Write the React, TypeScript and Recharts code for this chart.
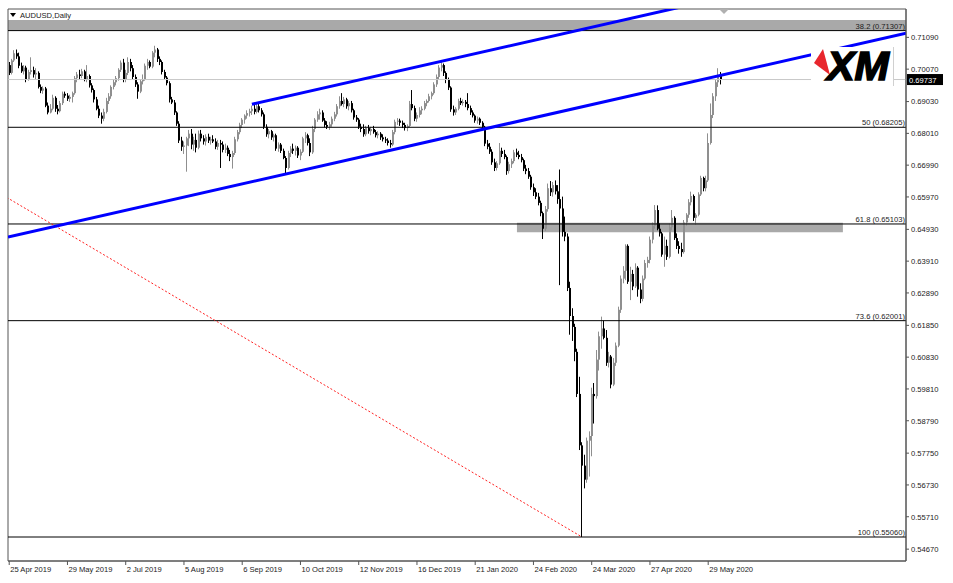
import React from "react";
import { ComposedChart, Bar, XAxis, YAxis, ReferenceLine, ReferenceArea } from "recharts";

// ---------------- data (AUDUSD daily candles) ----------------
const opens = [
  0.7020,0.6995,0.7035,0.7058,0.7048,0.7018,0.7000,0.7012,0.6975,0.6998,
  0.7004,0.6990,0.6995,0.6950,0.6938,0.6945,0.6890,0.6868,0.6880,0.6915,
  0.6880,0.6872,0.6898,0.6928,0.6922,0.6912,0.6918,0.6930,0.6978,0.6990,
  0.6985,0.7000,0.6975,0.6985,0.6955,0.6940,0.6910,0.6880,0.6858,0.6848,
  0.6870,0.6905,0.6920,0.6950,0.6965,0.6978,0.7005,0.7028,0.6975,0.6995,
  0.7030,0.7010,0.6982,0.6958,0.6935,0.6968,0.6975,0.7018,0.7030,0.7015,
  0.7060,0.7070,0.7040,0.7030,0.6998,0.6980,0.6962,0.6910,0.6900,0.6868,
  0.6832,0.6778,0.6758,0.6762,0.6785,0.6800,0.6765,0.6780,0.6755,0.6800,
  0.6785,0.6775,0.6790,0.6778,0.6782,0.6775,0.6758,0.6770,0.6765,0.6748,
  0.6755,0.6735,0.6725,0.6738,0.6782,0.6805,0.6828,0.6845,0.6858,0.6866,
  0.6872,0.6880,0.6870,0.6888,0.6875,0.6862,0.6822,0.6798,0.6808,0.6788,
  0.6795,0.6752,0.6765,0.6745,0.6722,0.6690,0.6738,0.6752,0.6745,0.6755,
  0.6730,0.6742,0.6785,0.6795,0.6770,0.6740,0.6815,0.6845,0.6862,0.6868,
  0.6842,0.6828,0.6822,0.6830,0.6848,0.6862,0.6888,0.6905,0.6895,0.6910,
  0.6888,0.6898,0.6875,0.6852,0.6845,0.6822,0.6815,0.6798,0.6818,0.6808,
  0.6815,0.6805,0.6795,0.6800,0.6788,0.6782,0.6778,0.6770,0.6765,0.6805,
  0.6838,0.6842,0.6835,0.6828,0.6818,0.6825,0.6895,0.6882,0.6848,0.6860,
  0.6875,0.6880,0.6898,0.6905,0.6920,0.6930,0.6958,0.6982,0.7012,0.7020,
  0.6995,0.6975,0.6948,0.6878,0.6868,0.6880,0.6905,0.6898,0.6902,0.6895,
  0.6882,0.6868,0.6858,0.6842,0.6848,0.6835,0.6822,0.6768,0.6758,0.6742,
  0.6708,0.6690,0.6705,0.6745,0.6735,0.6725,0.6680,0.6702,0.6712,0.6740,
  0.6732,0.6725,0.6715,0.6688,0.6680,0.6662,0.6628,0.6612,0.6598,0.6578,
  0.6545,0.6495,0.6558,0.6625,0.6612,0.6635,0.6615,0.6590,0.6560,0.6485,
  0.6470,0.6305,0.6215,0.6180,0.6100,0.5965,0.5800,0.5735,0.5690,0.5815,
  0.5830,0.5965,0.5958,0.6075,0.6150,0.6175,0.6145,0.6065,0.6085,0.5995,
  0.6065,0.6120,0.6235,0.6335,0.6360,0.6440,0.6325,0.6350,0.6310,0.6370,
  0.6300,0.6270,0.6335,0.6385,0.6395,0.6460,0.6505,0.6555,0.6495,0.6480,
  0.6412,0.6440,0.6405,0.6500,0.6530,0.6465,0.6440,0.6430,0.6420,0.6515,
  0.6540,0.6580,0.6600,0.6530,0.6540,0.6605,0.6658,0.6625,0.6650,0.6770,
  0.6860,0.6920,0.6965,0.6985,
];
const highs = [
  0.7030,0.7040,0.7068,0.7070,0.7060,0.7028,0.7020,0.7018,0.7005,0.7045,
  0.7015,0.7010,0.7000,0.6958,0.6952,0.6950,0.6900,0.6895,0.6925,0.6920,
  0.6892,0.6905,0.6935,0.6935,0.6930,0.6925,0.6935,0.6985,0.6998,0.7005,
  0.7008,0.7005,0.7020,0.6990,0.6962,0.6945,0.6918,0.6890,0.6868,0.6880,
  0.6915,0.6930,0.6955,0.6975,0.6985,0.7010,0.7035,0.7040,0.7005,0.7045,
  0.7040,0.7020,0.6990,0.6965,0.6975,0.6990,0.7025,0.7040,0.7035,0.7065,
  0.7082,0.7075,0.7048,0.7035,0.7005,0.6985,0.6968,0.6918,0.6908,0.6872,
  0.6840,0.6790,0.6775,0.6790,0.6812,0.6815,0.6790,0.6800,0.6810,0.6812,
  0.6795,0.6798,0.6800,0.6790,0.6795,0.6785,0.6780,0.6780,0.6775,0.6768,
  0.6762,0.6748,0.6745,0.6790,0.6812,0.6835,0.6850,0.6862,0.6875,0.6880,
  0.6890,0.6895,0.6897,0.6895,0.6882,0.6868,0.6830,0.6815,0.6812,0.6800,
  0.6800,0.6772,0.6770,0.6752,0.6728,0.6745,0.6760,0.6768,0.6762,0.6760,
  0.6750,0.6790,0.6805,0.6800,0.6785,0.6825,0.6850,0.6872,0.6880,0.6875,
  0.6850,0.6840,0.6838,0.6855,0.6870,0.6895,0.6920,0.6930,0.6918,0.6915,
  0.6905,0.6905,0.6880,0.6860,0.6850,0.6832,0.6830,0.6825,0.6828,0.6822,
  0.6825,0.6812,0.6808,0.6805,0.6798,0.6790,0.6785,0.6780,0.6812,0.6845,
  0.6850,0.6848,0.6842,0.6835,0.6830,0.6905,0.6940,0.6890,0.6868,0.6885,
  0.6888,0.6905,0.6910,0.6928,0.6935,0.6965,0.6990,0.7020,0.7036,0.7025,
  0.7000,0.6980,0.6952,0.6890,0.6885,0.6912,0.6915,0.6910,0.6908,0.6930,
  0.6890,0.6875,0.6862,0.6855,0.6852,0.6840,0.6825,0.6780,0.6770,0.6750,
  0.6720,0.6712,0.6770,0.6755,0.6748,0.6730,0.6710,0.6720,0.6748,0.6752,
  0.6745,0.6735,0.6720,0.6700,0.6690,0.6668,0.6640,0.6625,0.6610,0.6585,
  0.6550,0.6568,0.6640,0.6648,0.6645,0.6650,0.6635,0.6685,0.6598,0.6534,
  0.6480,0.6325,0.6240,0.6190,0.6110,0.6020,0.5810,0.5770,0.5825,0.5845,
  0.5985,0.6000,0.6106,0.6165,0.6213,0.6200,0.6170,0.6100,0.6090,0.6080,
  0.6130,0.6245,0.6345,0.6375,0.6445,0.6445,0.6373,0.6363,0.6384,0.6375,
  0.6320,0.6345,0.6395,0.6405,0.6470,0.6515,0.6571,0.6570,0.6512,0.6485,
  0.6470,0.6460,0.6512,0.6555,0.6535,0.6480,0.6455,0.6450,0.6523,0.6545,
  0.6590,0.6614,0.6605,0.6545,0.6612,0.6665,0.6662,0.6665,0.6801,0.6897,
  0.6930,0.6975,0.7010,0.6998,
];
const lows = [
  0.6988,0.6990,0.7030,0.7040,0.7010,0.6995,0.6990,0.6965,0.6970,0.6990,
  0.6980,0.6975,0.6945,0.6930,0.6928,0.6885,0.6862,0.6865,0.6875,0.6870,
  0.6862,0.6868,0.6892,0.6915,0.6905,0.6902,0.6900,0.6925,0.6965,0.6975,
  0.6978,0.6968,0.6965,0.6948,0.6932,0.6900,0.6875,0.6850,0.6832,0.6840,
  0.6865,0.6895,0.6912,0.6942,0.6955,0.6970,0.6998,0.6965,0.6965,0.6988,
  0.7000,0.6975,0.6950,0.6912,0.6930,0.6958,0.6970,0.7005,0.7010,0.7010,
  0.7045,0.7030,0.7020,0.6990,0.6975,0.6955,0.6900,0.6895,0.6860,0.6825,
  0.6770,0.6745,0.6735,0.6678,0.6760,0.6750,0.6745,0.6740,0.6750,0.6775,
  0.6765,0.6762,0.6770,0.6765,0.6770,0.6750,0.6748,0.6690,0.6740,0.6738,
  0.6728,0.6712,0.6688,0.6732,0.6775,0.6798,0.6818,0.6832,0.6848,0.6855,
  0.6860,0.6862,0.6865,0.6868,0.6855,0.6815,0.6790,0.6785,0.6780,0.6775,
  0.6745,0.6742,0.6738,0.6718,0.6672,0.6685,0.6725,0.6735,0.6730,0.6722,
  0.6715,0.6738,0.6770,0.6762,0.6728,0.6735,0.6805,0.6838,0.6845,0.6838,
  0.6820,0.6815,0.6812,0.6822,0.6840,0.6855,0.6880,0.6890,0.6885,0.6880,
  0.6875,0.6868,0.6845,0.6838,0.6815,0.6805,0.6790,0.6792,0.6800,0.6795,
  0.6800,0.6788,0.6785,0.6780,0.6775,0.6770,0.6762,0.6755,0.6760,0.6798,
  0.6828,0.6825,0.6818,0.6810,0.6808,0.6820,0.6875,0.6840,0.6838,0.6852,
  0.6862,0.6875,0.6888,0.6900,0.6910,0.6925,0.6950,0.6975,0.7000,0.6985,
  0.6962,0.6940,0.6870,0.6858,0.6860,0.6875,0.6892,0.6890,0.6885,0.6875,
  0.6860,0.6852,0.6835,0.6832,0.6828,0.6815,0.6760,0.6750,0.6735,0.6700,
  0.6680,0.6682,0.6700,0.6725,0.6718,0.6668,0.6672,0.6690,0.6705,0.6725,
  0.6718,0.6708,0.6680,0.6670,0.6655,0.6620,0.6600,0.6590,0.6570,0.6535,
  0.6462,0.6488,0.6550,0.6600,0.6598,0.6605,0.6575,0.6314,0.6470,0.6455,
  0.6295,0.6155,0.6135,0.6070,0.5955,0.5785,0.5506,0.5662,0.5680,0.5700,
  0.5765,0.5870,0.5950,0.6040,0.6110,0.6140,0.6055,0.6050,0.5983,0.5990,
  0.6055,0.6115,0.6225,0.6320,0.6330,0.6318,0.6266,0.6298,0.6305,0.6277,
  0.6256,0.6262,0.6330,0.6370,0.6384,0.6448,0.6495,0.6490,0.6470,0.6405,
  0.6373,0.6395,0.6400,0.6490,0.6459,0.6430,0.6415,0.6405,0.6415,0.6505,
  0.6530,0.6570,0.6520,0.6507,0.6535,0.6600,0.6615,0.6615,0.6645,0.6765,
  0.6850,0.6905,0.6950,0.6958,
];
const closes = [
  0.6995,0.7035,0.7058,0.7048,0.7018,0.7000,0.7012,0.6975,0.6998,0.7004,
  0.6990,0.6995,0.6950,0.6938,0.6945,0.6890,0.6868,0.6880,0.6915,0.6880,
  0.6872,0.6898,0.6928,0.6922,0.6912,0.6918,0.6930,0.6978,0.6990,0.6985,
  0.7000,0.6975,0.6985,0.6955,0.6940,0.6910,0.6880,0.6858,0.6848,0.6870,
  0.6905,0.6920,0.6950,0.6965,0.6978,0.7005,0.7028,0.6975,0.6995,0.7030,
  0.7010,0.6982,0.6958,0.6935,0.6968,0.6975,0.7018,0.7030,0.7015,0.7060,
  0.7070,0.7040,0.7030,0.6998,0.6980,0.6962,0.6910,0.6900,0.6868,0.6832,
  0.6778,0.6758,0.6762,0.6785,0.6800,0.6765,0.6780,0.6755,0.6800,0.6785,
  0.6775,0.6790,0.6778,0.6782,0.6775,0.6758,0.6770,0.6765,0.6748,0.6755,
  0.6735,0.6725,0.6738,0.6782,0.6805,0.6828,0.6845,0.6858,0.6866,0.6872,
  0.6880,0.6870,0.6888,0.6875,0.6862,0.6822,0.6798,0.6808,0.6788,0.6795,
  0.6752,0.6765,0.6745,0.6722,0.6690,0.6738,0.6752,0.6745,0.6755,0.6730,
  0.6742,0.6785,0.6795,0.6770,0.6740,0.6815,0.6845,0.6862,0.6868,0.6842,
  0.6828,0.6822,0.6830,0.6848,0.6862,0.6888,0.6905,0.6895,0.6910,0.6888,
  0.6898,0.6875,0.6852,0.6845,0.6822,0.6815,0.6798,0.6818,0.6808,0.6815,
  0.6805,0.6795,0.6800,0.6788,0.6782,0.6778,0.6770,0.6765,0.6805,0.6838,
  0.6842,0.6835,0.6828,0.6818,0.6825,0.6895,0.6882,0.6848,0.6860,0.6875,
  0.6880,0.6898,0.6905,0.6920,0.6930,0.6958,0.6982,0.7012,0.7020,0.6995,
  0.6975,0.6948,0.6878,0.6868,0.6880,0.6905,0.6898,0.6902,0.6895,0.6882,
  0.6868,0.6858,0.6842,0.6848,0.6835,0.6822,0.6768,0.6758,0.6742,0.6708,
  0.6690,0.6705,0.6745,0.6735,0.6725,0.6680,0.6702,0.6712,0.6740,0.6732,
  0.6725,0.6715,0.6688,0.6680,0.6662,0.6628,0.6612,0.6598,0.6578,0.6545,
  0.6495,0.6558,0.6625,0.6612,0.6635,0.6615,0.6590,0.6560,0.6485,0.6470,
  0.6305,0.6215,0.6180,0.6100,0.5965,0.5800,0.5735,0.5690,0.5815,0.5830,
  0.5965,0.5958,0.6075,0.6150,0.6175,0.6145,0.6065,0.6085,0.5995,0.6065,
  0.6120,0.6235,0.6335,0.6360,0.6440,0.6325,0.6350,0.6310,0.6370,0.6300,
  0.6270,0.6335,0.6385,0.6395,0.6460,0.6505,0.6555,0.6495,0.6480,0.6412,
  0.6440,0.6405,0.6500,0.6530,0.6465,0.6440,0.6430,0.6420,0.6515,0.6540,
  0.6580,0.6600,0.6530,0.6540,0.6605,0.6658,0.6625,0.6650,0.6770,0.6860,
  0.6920,0.6965,0.6985,0.6974,
];

const dateLabels = [
  "25 Apr 2019", "29 May 2019", "2 Jul 2019", "5 Aug 2019", "6 Sep 2019",
  "10 Oct 2019", "12 Nov 2019", "16 Dec 2019", "21 Jan 2020", "24 Feb 2020",
  "24 Mar 2020", "27 Apr 2020", "29 May 2020",
];
const tickBars = [0, 24, 48, 72, 96, 120, 144, 168, 192, 216, 240, 264, 288];
const priceTicks = [
  0.7109, 0.7007, 0.6903, 0.6801, 0.6699, 0.6597, 0.6493, 0.6391, 0.6289,
  0.6185, 0.6083, 0.5981, 0.5879, 0.5775, 0.5673, 0.5571, 0.5467,
];
const fibLevels = [
  { name: "38.2", price: 0.71307 },
  { name: "50", price: 0.68205 },
  { name: "61.8", price: 0.65103 },
  { name: "73.6", price: 0.62001 },
  { name: "100", price: 0.5506 },
];
const lastPrice = 0.69737;
const channelLower = [{ bar: -0.5, price: 0.64685 }, { bar: 369.5, price: 0.7122 }];
const channelUpper = [{ bar: 100, price: 0.68943 }, { bar: 300, price: 0.72475 }];
const fibDiagonal = [{ bar: -336, price: 0.8135 }, { bar: 236, price: 0.5506 }];
const topZone = { from: -0.5, to: 369.5, low: 0.71307, high: 0.71647 };
const supportZone = { from: 209.2, to: 343.5, low: 0.64836, high: 0.65144 };
const emptySlots = 76; // empty space to the right of the last candle (in bars)

// ---------------- layout ----------------
const W = 953;
const H = 583;
const Y_MIN = 0.5429;
const Y_MAX = 0.72;
const X_MIN = -0.5;
const X_MAX = opens.length + emptySlots - 0.5;
const FONT = "'Liberation Sans', Arial, sans-serif";
const FS = 7.6;

const rows = Array.from({ length: opens.length + emptySlots }, (_, i) =>
  i < opens.length
    ? { i, o: opens[i], h: highs[i], l: lows[i], c: closes[i], range: [lows[i], highs[i]] }
    : { i, range: null }
);

const Candle = (props: any) => {
  const { x, y, width, height, payload } = props;
  if (!payload || payload.o == null || x == null) return null;
  const { o, h, l, c } = payload;
  const top = Math.min(y, y + height);
  const hp = Math.abs(height);
  const py = (p: number) => (h === l ? top : top + ((h - p) / (h - l)) * hp);
  const up = c >= o;
  const color = up ? "#8f8f8f" : "#000000";
  const px = Math.floor(x + width / 2);
  const bTop = py(Math.max(o, c));
  const bBot = py(Math.min(o, c));
  return (
    <g>
      <line x1={px + 0.5} x2={px + 0.5} y1={top} y2={top + hp} stroke={color} strokeWidth={1} />
      <rect x={px} y={bTop} width={2} height={Math.max(1, bBot - bTop)} fill={color} />
    </g>
  );
};

const DateTick = (props: any) => {
  const { x, y, payload } = props;
  const idx = tickBars.indexOf(payload.value);
  if (idx < 0) return null;
  return (
    <text x={x + 1} y={y + 5} fontSize={FS} fontFamily={FONT} fill="#1a1a1a" textAnchor="start">
      {dateLabels[idx]}
    </text>
  );
};

const PriceTick = (props: any) => {
  const { x, y, payload } = props;
  return (
    <text x={x} y={y + 2.8} fontSize={FS} fontFamily={FONT} fill="#1a1a1a" textAnchor="start">
      {Number(payload.value).toFixed(5)}
    </text>
  );
};

const fibLabel = (text: string) => (props: any) => {
  const vb = props.viewBox || {};
  return (
    <text
      x={vb.x + vb.width - 1}
      y={vb.y - 2}
      fontSize={FS}
      fontFamily={FONT}
      fill="#1a1a1a"
      textAnchor="end"
    >
      {text}
    </text>
  );
};

const priceBox = (props: any) => {
  const vb = props.viewBox || {};
  const x0 = vb.x + vb.width;
  return (
    <g>
      <rect x={x0 + 1} y={vb.y - 5.5} width={36} height={11} fill="#000" />
      <text x={x0 + 3} y={vb.y + 3} fontSize={FS} fontFamily={FONT} fill="#fff" textAnchor="start">
        {lastPrice.toFixed(5)}
      </text>
    </g>
  );
};

export default function App() {
  return (
    <div style={{ position: "absolute", left: 0, top: 0, width: W, height: H, background: "#fff" }}>
      <ComposedChart
        width={W}
        height={H}
        data={rows}
        margin={{ top: 9, right: 0, bottom: 0, left: 8 }}
        barCategoryGap={0}
      >
        <XAxis
          xAxisId="cat"
          dataKey="i"
          type="category"
          ticks={tickBars}
          interval={0}
          height={22}
          tickSize={4}
          tickMargin={2}
          tick={<DateTick />}
          axisLine={{ stroke: "#555" }}
          tickLine={{ stroke: "#555" }}
        />
        <XAxis
          xAxisId="num"
          dataKey="i"
          type="number"
          domain={[X_MIN, X_MAX]}
          allowDataOverflow
          hide
        />
        <YAxis
          orientation="right"
          type="number"
          domain={[Y_MIN, Y_MAX]}
          allowDataOverflow
          ticks={priceTicks}
          interval={0}
          width={47}
          tickSize={3}
          tickMargin={2}
          tick={<PriceTick />}
          axisLine={{ stroke: "#555" }}
          tickLine={{ stroke: "#555" }}
        />

        <ReferenceArea
          xAxisId="num"
          x1={topZone.from}
          x2={topZone.to}
          y1={topZone.low}
          y2={topZone.high}
          fill="#a9a9a9"
          fillOpacity={1}
          stroke="none"
          ifOverflow="hidden"
        />
        <ReferenceArea
          xAxisId="num"
          x1={supportZone.from}
          x2={supportZone.to}
          y1={supportZone.low}
          y2={supportZone.high}
          fill="#a9a9a9"
          fillOpacity={1}
          stroke="none"
          ifOverflow="hidden"
        />

        <ReferenceLine
          xAxisId="num"
          y={lastPrice}
          stroke="#c8c8c8"
          strokeWidth={1}
          label={priceBox}
        />

        {fibLevels.map((f) => (
          <ReferenceLine
            key={f.name}
            xAxisId="num"
            y={f.price}
            stroke="#000"
            strokeWidth={1}
            label={fibLabel(`${f.name} (${f.price.toFixed(5)})`)}
          />
        ))}

        <ReferenceLine
          xAxisId="num"
          segment={fibDiagonal.map((p) => ({ x: p.bar, y: p.price }))}
          stroke="#ff2020"
          strokeWidth={1}
          strokeDasharray="2 2"
          ifOverflow="hidden"
        />

        <Bar
          xAxisId="cat"
          dataKey="range"
          isAnimationActive={false}
          shape={(p: any) => <Candle {...p} />}
        />

        <ReferenceLine
          xAxisId="num"
          segment={channelLower.map((p) => ({ x: p.bar, y: p.price }))}
          stroke="#0000ff"
          strokeWidth={3}
          ifOverflow="hidden"
        />
        <ReferenceLine
          xAxisId="num"
          segment={channelUpper.map((p) => ({ x: p.bar, y: p.price }))}
          stroke="#0000ff"
          strokeWidth={3}
          ifOverflow="hidden"
        />

        <ReferenceArea
          xAxisId="num"
          x1={X_MIN}
          x2={X_MAX}
          y1={Y_MIN}
          y2={Y_MAX}
          fill="none"
          stroke="#555"
          strokeWidth={1}
        />
      </ComposedChart>

      <svg
        width={W}
        height={H}
        style={{ position: "absolute", left: 0, top: 0, pointerEvents: "none" }}
      >
        <polygon points="10,13 16,13 13,17" fill="#000" />
        <text x={20} y={18} fontSize={FS} fontFamily={FONT} fill="#1a1a1a">
          AUDUSD,Daily
        </text>
        <polygon points="719,9 729,9 724,14" fill="#b0b0b0" />
        {/* broker logo on an opaque white plate */}
        <rect x={811} y={47} width={82} height={39} fill="#fff" />
        <line x1={893.5} x2={893.5} y1={47} y2={86} stroke="#d0d0d0" strokeWidth={1} />
        <polygon points="823,49 814,63 830,75 826,60" fill="#e8262d" />
        <text
          x={827}
          y={80}
          fontSize={40}
          fontFamily={FONT}
          fontWeight="bold"
          fontStyle="italic"
          fill="#000"
          stroke="#000"
          strokeWidth={1.6}
          textLength={62}
          lengthAdjust="spacingAndGlyphs"
        >
          XM
        </text>
      </svg>
    </div>
  );
}
